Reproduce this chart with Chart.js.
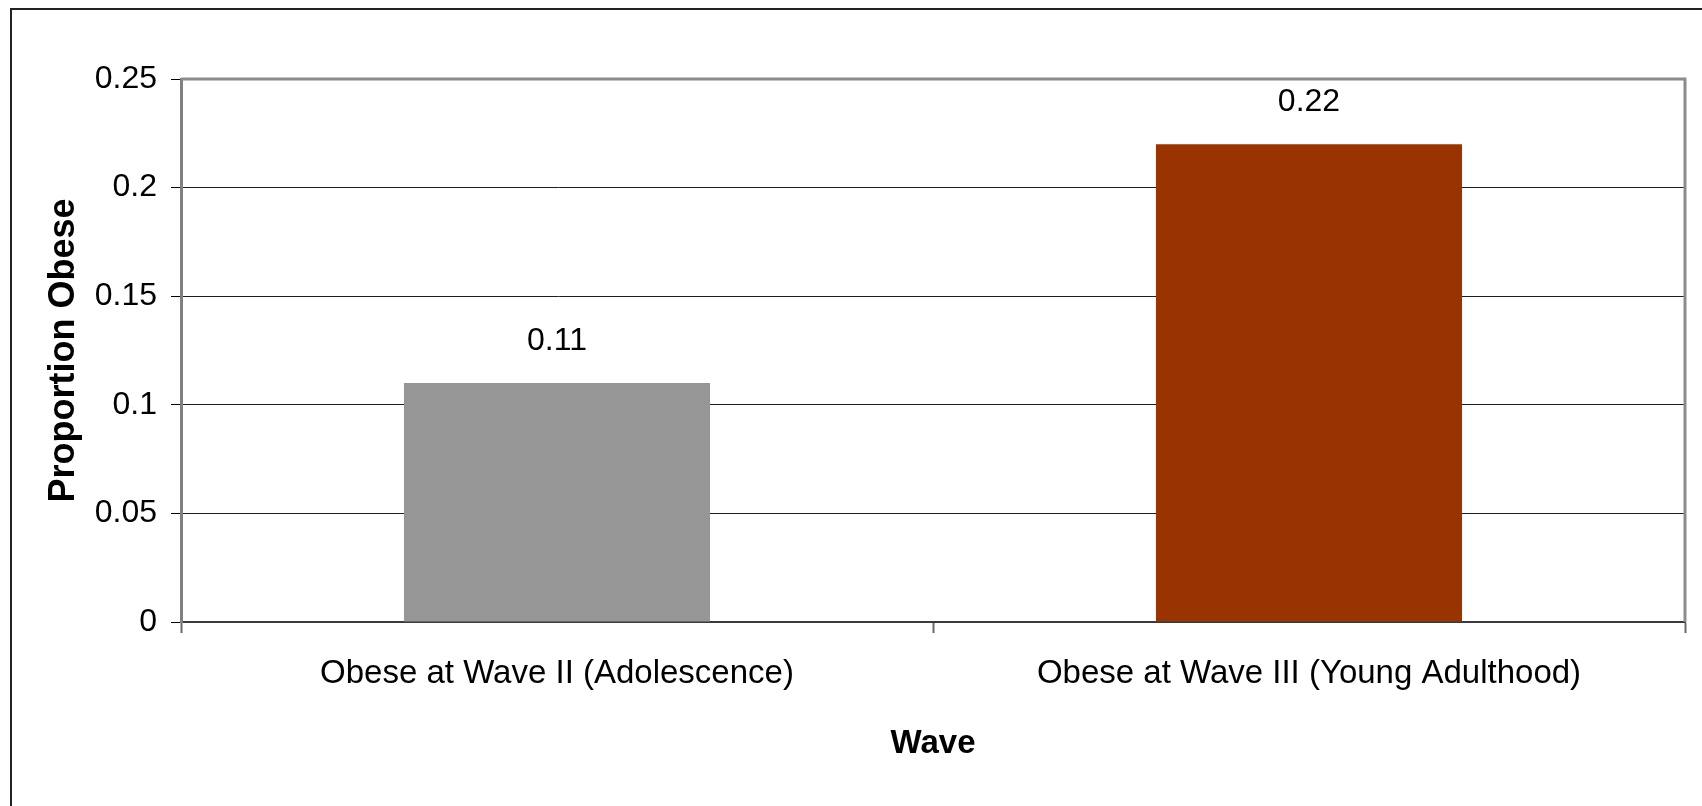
<!DOCTYPE html>
<html>
<head>
<meta charset="utf-8">
<script src="https://cdn.jsdelivr.net/npm/chart.js@4/dist/chart.umd.min.js"></script>
<style>
  html, body { margin: 0; padding: 0; background: #fff; }
  #wrap { width: 1702px; height: 806px; position: relative; }
</style>
</head>
<body>
<div id="wrap"><canvas id="c"></canvas></div>
<script>
// ---- data ----
const categories = ['Obese at Wave II (Adolescence)', 'Obese at Wave III (Young Adulthood)'];
const proportionObese = [0.11, 0.22];
const dataLabels = ['0.11', '0.22'];
const barColors = ['#969696', '#993300'];
const yTickValues = [0, 0.05, 0.1, 0.15, 0.2, 0.25];
const yTickLabels = ['0', '0.05', '0.1', '0.15', '0.2', '0.25'];
const xTitle = 'Wave';
const yTitle = 'Proportion Obese';

// ---- font detection ----
function hasFont(name) {
  const ctx = document.createElement('canvas').getContext('2d');
  const s = 'Obese at Wave mmmiiiWW0.25';
  ctx.font = '40px monospace';
  const a = ctx.measureText(s).width;
  ctx.font = '40px "' + name + '", monospace';
  const b = ctx.measureText(s).width;
  return Math.abs(a - b) > 0.5;
}
const narrow = hasFont('Liberation Sans Narrow');
const FAM = narrow ? '"Liberation Sans Narrow", "Liberation Sans", Arial, sans-serif'
                   : '"Liberation Sans", Arial, sans-serif';
const SZ = narrow ? { tick: 35, cat: 39, label: 35, xt: 39 } : { tick: 32, cat: 33, label: 32, xt: 33 };
const YT_FAM = '"Liberation Sans", Arial, sans-serif';
const YT_SZ = 36;

const plotLeft = 181, plotTop = 79, plotRight = 1685, plotBottom = 622;
const W = 1702, H = 806;

const decorPlugin = {
  id: 'decor',
  afterDraw(chart) {
    const ctx = chart.ctx;
    const a = chart.chartArea;
    ctx.save();
    // outer frame
    ctx.strokeStyle = '#222';
    ctx.lineWidth = 2;
    ctx.strokeRect(11, 9, W, H);
    // plot top & right border
    ctx.strokeStyle = '#8c8c8c';
    ctx.lineWidth = 3;
    ctx.beginPath();
    ctx.moveTo(a.left, a.top);
    ctx.lineTo(a.right, a.top);
    ctx.lineTo(a.right, a.bottom);
    ctx.stroke();
    // data labels
    const meta = chart.getDatasetMeta(0);
    ctx.fillStyle = '#000';
    ctx.font = SZ.label + 'px ' + FAM;
    ctx.textAlign = 'center';
    ctx.textBaseline = 'middle';
    meta.data.forEach((bar, i) => {
      ctx.fillText(dataLabels[i], bar.x, bar.y - 42);
    });
    ctx.restore();
  }
};

const xtLine = SZ.xt * 1.2;

new Chart(document.getElementById('c'), {
  type: 'bar',
  data: {
    labels: categories,
    datasets: [{
      data: proportionObese,
      backgroundColor: barColors,
      borderWidth: 0,
      categoryPercentage: 1,
      barPercentage: 0.407
    }]
  },
  options: {
    responsive: true,
    maintainAspectRatio: false,
    animation: false,
    devicePixelRatio: 1,
    layout: { padding: { left: 0, top: plotTop, right: W - plotRight, bottom: 0 } },
    plugins: { legend: { display: false }, tooltip: { enabled: false }, title: { display: false } },
    scales: {
      x: {
        offset: true,
        afterFit(scale) { scale.height = H - plotBottom; },
        grid: {
          display: true,
          offset: true,
          drawOnChartArea: false,
          drawTicks: true,
          tickLength: 11,
          tickColor: '#6a6a6a',
          tickWidth: 2
        },
        border: { display: true, color: '#3a3a3a', width: 2 },
        ticks: {
          color: '#000',
          padding: 21,
          maxRotation: 0,
          autoSkip: false,
          font: { family: FAM, size: SZ.cat }
        },
        title: {
          display: true,
          text: xTitle,
          color: '#000',
          font: { family: FAM, size: SZ.xt, weight: 'bold' },
          padding: { top: 0, bottom: 62 - xtLine / 2 }
        }
      },
      y: {
        min: 0,
        max: 0.25,
        afterFit(scale) { scale.width = plotLeft; },
        afterBuildTicks(scale) { scale.ticks = yTickValues.map(v => ({ value: v })); },
        grid: {
          color: '#1e1e1e',
          lineWidth: 1,
          drawTicks: true,
          tickLength: 10,
          tickColor: '#000',
          tickWidth: 1
        },
        border: { display: true, color: '#808080', width: 3 },
        ticks: {
          color: '#000',
          padding: 14,
          font: { family: FAM, size: SZ.tick },
          callback: (v, i) => yTickLabels[i]
        },
        title: {
          display: true,
          text: yTitle,
          color: '#000',
          font: { family: YT_FAM, size: YT_SZ, weight: 'bold' },
          padding: { top: 64 - YT_SZ * 1.2 / 2, bottom: 0 }
        }
      }
    }
  },
  plugins: [decorPlugin]
});
</script>
</body>
</html>
